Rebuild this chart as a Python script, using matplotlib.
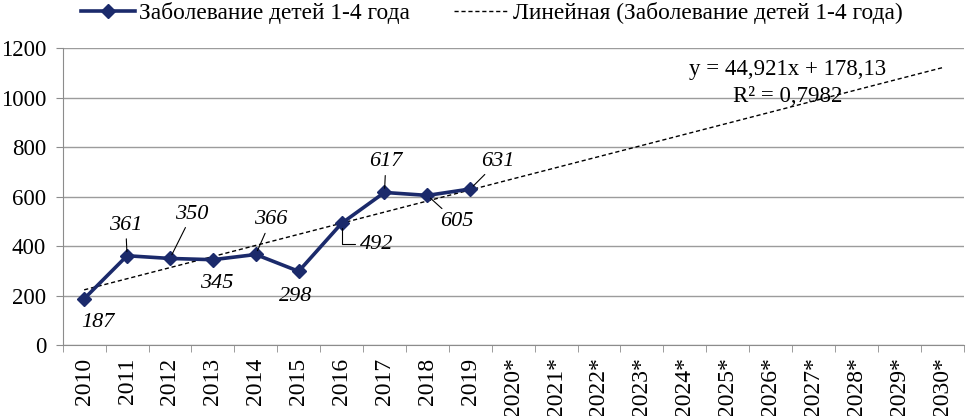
import matplotlib
matplotlib.use("Agg")
import matplotlib.pyplot as plt
import numpy as np

plt.rcParams['font.family'] = ['Liberation Serif', 'DejaVu Serif']

# данные
years = ['2010', '2011', '2012', '2013', '2014', '2015', '2016', '2017', '2018', '2019',
         '2020*', '2021*', '2022*', '2023*', '2024*', '2025*', '2026*', '2027*', '2028*',
         '2029*', '2030*']
cases = [187, 361, 350, 345, 366, 298, 492, 617, 605, 631]
yticks = [0, 200, 400, 600, 800, 1000, 1200]

series_name = 'Заболевание детей 1-4 года'
trend_name = 'Линейная (Заболевание детей 1-4 года)'

# смещения подписей (в пунктах) и нужна ли выноска
label_off = [(10, -17), (-1, 22), (16, 32), (3, -17), (11, 25), (-2, -18),
             (25, -15), (1, 22), (21, -19), (20, 20)]
label_line = [False, True, True, False, True, False, 'elbow', True, True, True]

navy = '#1B2A6B'

fig = plt.figure(figsize=(9.68, 4.16), dpi=100)
ax = fig.add_axes([0.0648, 0.1707, 0.9307, 0.7132])

x_all = np.arange(len(years))
x = np.arange(len(cases))

# линия тренда (как в Excel, x = 1..n)
k, b = np.polyfit(x + 1, cases, 1)
ax.plot(x_all, k * (x_all + 1) + b, color='black', lw=1.0,
        linestyle=(0, (3, 2)), label=trend_name, zorder=2)

ax.plot(x, cases, color=navy, lw=2.6, marker='D', markersize=7.5,
        label=series_name, zorder=3)

for i, v in enumerate(cases):
    dx, dy = label_off[i]
    props = None
    if label_line[i] == 'elbow':
        props = dict(arrowstyle='-', color='black', lw=0.8, shrinkA=1, shrinkB=3,
                     connectionstyle='angle,angleA=0,angleB=90,rad=0')
    elif label_line[i]:
        props = dict(arrowstyle='-', color='black', lw=0.8, shrinkA=1, shrinkB=3)
    ax.annotate(str(v), (x[i], v), xytext=(dx, dy), textcoords='offset points',
                ha='center', va='center', fontsize=16, style='italic',
                arrowprops=props, zorder=4)

# уравнение тренда
r = np.corrcoef(x + 1, cases)[0, 1]
eq = 'y = ' + f'{k:.3f}'.replace('.', ',') + 'x + ' + f'{b:.2f}'.replace('.', ',')
r2 = 'R² = ' + f'{r * r:.4f}'.replace('.', ',')
ax.text(16.4, 1116, eq, ha='center', va='center', fontsize=16.5, zorder=5)
ax.text(16.4, 1007, r2, ha='center', va='center', fontsize=16.5, zorder=5)

ax.set_xlim(-0.5, len(years) - 0.5)
ax.set_ylim(0, 1200)
ax.set_yticks(yticks)
ax.set_xticks(x_all)
ax.set_xticklabels(years, rotation=90, fontsize=17)
ax.set_xticks(np.arange(len(years) + 1) - 0.5, minor=True)
ax.tick_params(axis='x', which='major', length=0, pad=9)
ax.tick_params(axis='x', which='minor', length=5, color='#8C8C8C', direction='out')
ax.tick_params(axis='y', length=5, color='#8C8C8C', labelsize=16.5, pad=7)

ax.grid(axis='y', color='#9C9C9C', lw=1.0)
ax.set_axisbelow(True)
for s in ['top', 'right']:
    ax.spines[s].set_visible(False)
for s in ['left', 'bottom']:
    ax.spines[s].set_color('#8C8C8C')

h, l = ax.get_legend_handles_labels()
fig.legend(h[::-1], l[::-1], loc='center', bbox_to_anchor=(0.508, 0.968), ncol=2,
           frameon=False, fontsize=16.8, handlelength=2.3, handletextpad=0.2,
           columnspacing=1.9, borderaxespad=0)

fig.savefig('out.png', dpi=100)
